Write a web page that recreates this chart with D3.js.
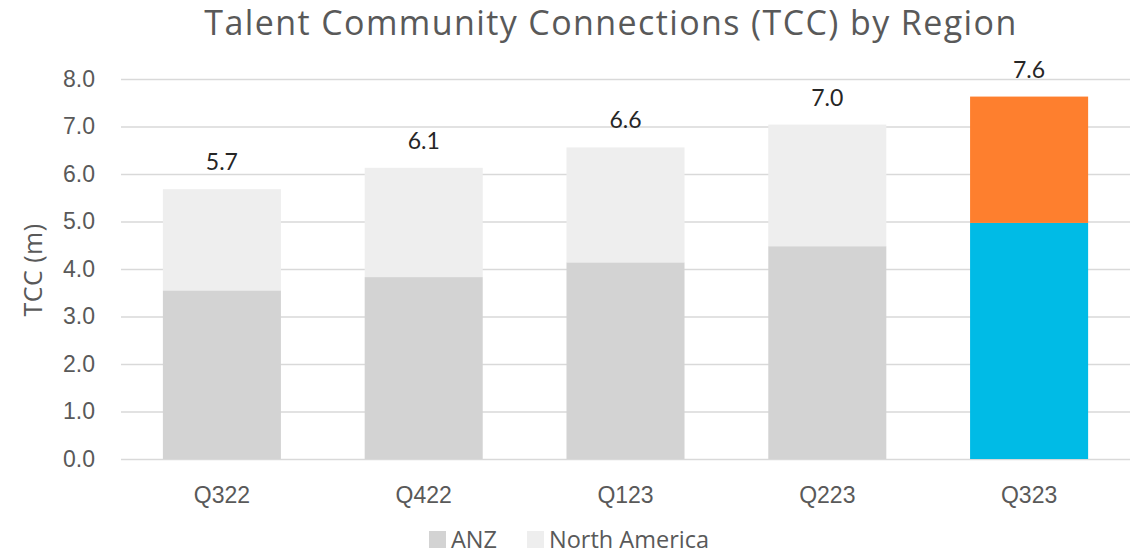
<!DOCTYPE html>
<html>
<head>
<meta charset="utf-8">
<script src="https://cdn.jsdelivr.net/npm/d3@7"></script>
<style>
  body { margin: 0; background: #fff; }
  svg { display: block; font-family: "Open Sans", sans-serif; }
</style>
</head>
<body>
<svg id="chart" width="1140" height="554"></svg>
<script>
// chart data
const quarters = ["Q322", "Q422", "Q123", "Q223", "Q323"];
const anz = [3.55, 3.83, 4.14, 4.48, 4.97];
const northAmerica = [2.13, 2.30, 2.42, 2.56, 2.66];
const seriesNames = ["ANZ", "North America"];
const yTicks = [0, 1, 2, 3, 4, 5, 6, 7, 8];
const highlightQuarter = "Q323";

let width = 1140,
    height = 554,
    margin = {top: 79, right: 10, bottom: 95, left: 121};

let svg = d3.select("#chart");

let rows = quarters.map(function (q, i) {
    return {quarter: q, "ANZ": anz[i], "North America": northAmerica[i]};
});

let stack = d3.stack().keys(seriesNames)(rows);

let xScale = d3.scaleBand()
    .domain(quarters)
    .range([margin.left, width - margin.right])
    .paddingInner(0.415)
    .paddingOuter(0.2075);

let yScale = d3.scaleLinear()
    .domain([0, 8])
    .range([height - margin.bottom, margin.top]);

// normal and highlighted colours
let greyColors = {"ANZ": "#d3d3d3", "North America": "#eeeeee"};
let hiColors = {"ANZ": "#00bbe6", "North America": "#fe7f2e"};

// gridlines + y labels
let yAxis = d3.axisLeft(yScale)
    .tickValues(yTicks)
    .tickSize(-(width - margin.left - margin.right))
    .tickPadding(26)
    .tickFormat(d3.format(".1f"));

let yG = svg.append("g")
    .attr("transform", "translate(" + margin.left + ",0)")
    .call(yAxis);
yG.select(".domain").remove();
yG.selectAll(".tick line").attr("stroke", "#d9d9d9").attr("stroke-width", 1.5);
yG.selectAll(".tick text")
    .attr("x", -26)
    .attr("text-anchor", "end")
    .attr("fill", "#595959")
    .style("font-size", "23px");

// bars
let layers = svg.append("g").selectAll("g")
    .data(stack)
    .enter().append("g");

layers.selectAll("rect")
    .data(function (d) {
        return d.map(function (p) { p.key = d.key; return p; });
    })
    .enter().append("rect")
    .attr("x", function (d) { return xScale(d.data.quarter); })
    .attr("width", xScale.bandwidth())
    .attr("y", function (d) { return yScale(d[1]); })
    .attr("height", function (d) { return yScale(d[0]) - yScale(d[1]); })
    .attr("fill", function (d) {
        return d.data.quarter == highlightQuarter ? hiColors[d.key] : greyColors[d.key];
    });

// total labels
svg.append("g").selectAll("text")
    .data(rows)
    .enter().append("text")
    .attr("x", function (d) { return xScale(d.quarter) + xScale.bandwidth() / 2; })
    .attr("y", function (d) { return yScale(d["ANZ"] + d["North America"]) - 19; })
    .attr("text-anchor", "middle")
    .attr("fill", "#262626")
    .style("font-family", "Lato, sans-serif")
    .style("font-size", "23px")
    .text(function (d) { return d3.format(".1f")(d["ANZ"] + d["North America"]); });

// category axis
let xAxis = d3.axisBottom(xScale).tickSize(0).tickPadding(28);
let xG = svg.append("g")
    .attr("transform", "translate(0," + (height - margin.bottom) + ")")
    .call(xAxis);
xG.select(".domain").remove();
xG.selectAll(".tick text")
    .attr("fill", "#595959")
    .style("font-size", "23px");

// title
svg.append("text")
    .attr("x", 611)
    .attr("y", 35)
    .attr("text-anchor", "middle")
    .attr("fill", "#595959")
    .style("font-size", "34px")
    .style("letter-spacing", "1.4px")
    .text("Talent Community Connections (TCC) by Region");

// y axis title
svg.append("text")
    .attr("transform", "translate(42,270) rotate(-90)")
    .attr("text-anchor", "middle")
    .attr("fill", "#595959")
    .style("font-size", "25px")
    .style("letter-spacing", "0.5px")
    .text("TCC (m)");

// legend
let legend = svg.append("g").attr("transform", "translate(429,531)");
let legendX = [0, 98];
let items = legend.selectAll("g")
    .data(seriesNames)
    .enter().append("g")
    .attr("transform", function (d, i) { return "translate(" + legendX[i] + ",0)"; });
items.append("rect")
    .attr("width", 17)
    .attr("height", 17)
    .attr("fill", function (d) { return greyColors[d]; });
items.append("text")
    .attr("x", 22)
    .attr("y", 17)
    .attr("fill", "#595959")
    .style("font-size", "23.5px")
    .text(function (d) { return d; });
</script>
</body>
</html>
